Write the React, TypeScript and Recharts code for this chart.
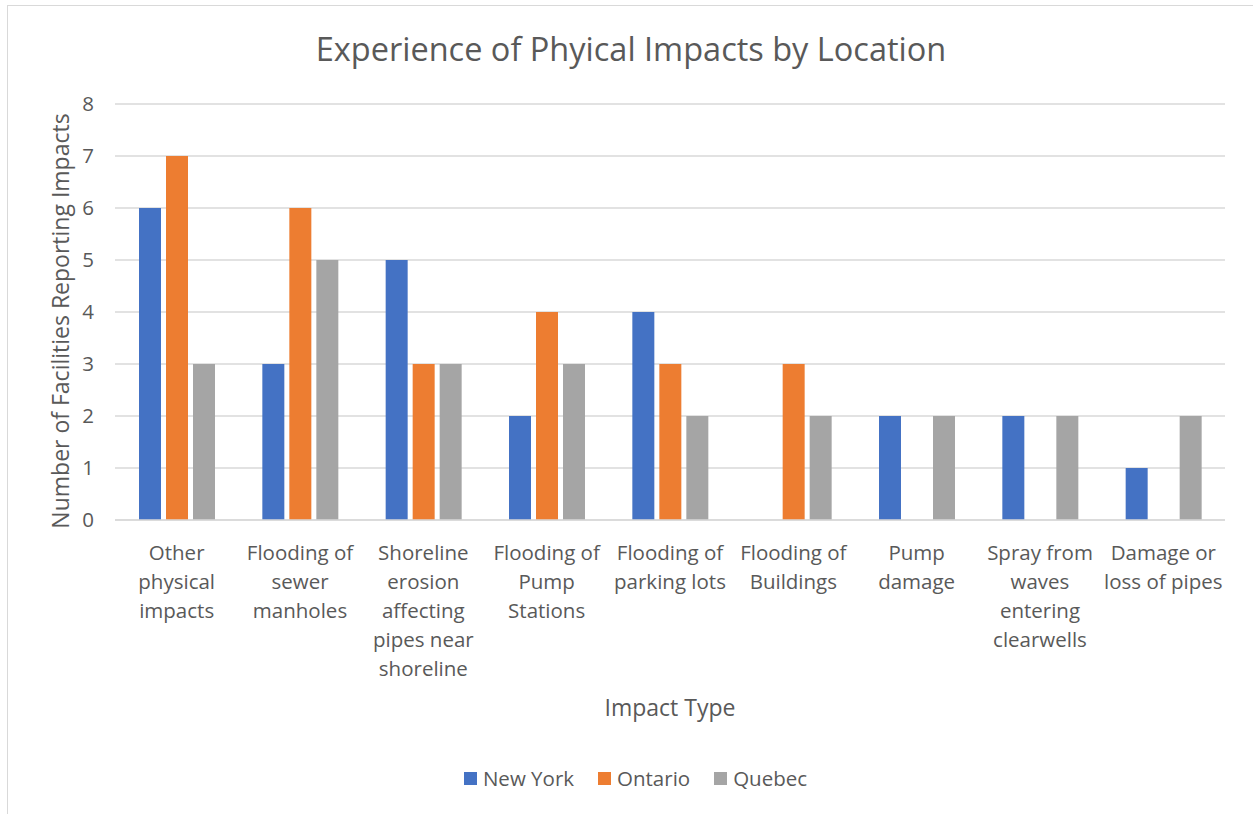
import React from "react";
import {
  BarChart,
  Bar,
  XAxis,
  YAxis,
  CartesianGrid,
  Legend,
  Label,
} from "recharts";

// category labels, with the line breaks as they appear in the chart
const CATEGORIES = [
  "Other\nphysical\nimpacts",
  "Flooding of\nsewer\nmanholes",
  "Shoreline\nerosion\naffecting\npipes near\nshoreline",
  "Flooding of\nPump\nStations",
  "Flooding of\nparking lots",
  "Flooding of\nBuildings",
  "Pump\ndamage",
  "Spray from\nwaves\nentering\nclearwells",
  "Damage or\nloss of pipes",
];

const NEW_YORK = [6, 3, 5, 2, 4, 0, 2, 2, 1];
const ONTARIO = [7, 6, 3, 4, 3, 3, 0, 0, 0];
const QUEBEC = [3, 5, 3, 3, 2, 2, 2, 2, 2];

const Y_TICKS = [0, 1, 2, 3, 4, 5, 6, 7, 8];

const SERIES = [
  { key: "ny", name: "New York", color: "#4472C4" },
  { key: "on", name: "Ontario", color: "#ED7D31" },
  { key: "qc", name: "Quebec", color: "#A5A5A5" },
];

const data = CATEGORIES.map((c, i) => ({
  category: c,
  ny: NEW_YORK[i] || null,
  on: ONTARIO[i] || null,
  qc: QUEBEC[i] || null,
}));

const FONT = "'Open Sans', 'Noto Sans', sans-serif";
const TEXT = "#595959";

function CategoryTick(props: any) {
  const { x, y, payload } = props;
  const lines = String(payload.value).split("\n");
  return (
    <text
      x={x}
      y={y + 32}
      textAnchor="middle"
      fill={TEXT}
      fontSize={20.5}
      fontFamily={FONT}
    >
      {lines.map((l, i) => (
        <tspan key={i} x={x} dy={i === 0 ? 0 : 29}>
          {l}
        </tspan>
      ))}
    </text>
  );
}

function LegendContent() {
  return (
    <div
      style={{
        display: "flex",
        justifyContent: "center",
        alignItems: "center",
        height: 40,
        lineHeight: "28px",
        paddingLeft: 46,
        fontFamily: FONT,
        fontSize: 20.5,
        color: TEXT,
      }}
    >
      {SERIES.map((s) => (
        <div
          key={s.key}
          style={{ display: "flex", alignItems: "center", margin: "0 12px", marginTop: -12 }}
        >
          <span
            style={{
              display: "inline-block",
              width: 13,
              height: 13,
              background: s.color,
              marginRight: 6,
            }}
          />
          {s.name}
        </div>
      ))}
    </div>
  );
}

export default function App() {
  return (
    <div
      style={{
        position: "absolute",
        left: 0,
        top: 0,
        width: 1253,
        height: 814,
        background: "#fff",
        fontFamily: FONT,
      }}
    >
      <div
        style={{
          position: "absolute",
          left: 7,
          top: 5,
          width: 1260,
          height: 820,
          border: "1px solid #D9D9D9",
        }}
      />
      <div
        style={{
          position: "absolute",
          left: 0,
          top: 26,
          width: 1262,
          textAlign: "center",
          fontSize: 32.5,
          color: TEXT,
        }}
      >
        Experience of Phyical Impacts by Location
      </div>
      <BarChart
        width={1253}
        height={814}
        data={data}
        margin={{ top: 104, right: 28, left: 0, bottom: 10 }}
        barGap={5}
        barSize={22}
        style={{ position: "absolute", left: 0, top: 0 }}
      >
        <CartesianGrid vertical={false} stroke="#D9D9D9" strokeWidth={1.5} />
        <XAxis
          dataKey="category"
          interval={0}
          height={244}
          axisLine={{ stroke: "#D9D9D9", strokeWidth: 1.5 }}
          tickLine={false}
          tick={<CategoryTick />}
        >
          <Label
            content={(p: any) => {
              const vb = p.viewBox;
              return (
                <text
                  x={vb.x + vb.width / 2}
                  y={vb.y + 196}
                  textAnchor="middle"
                  fill={TEXT}
                  fontSize={23}
                  fontFamily={FONT}
                >
                  Impact Type
                </text>
              );
            }}
          />
        </XAxis>
        <YAxis
          width={115}
          domain={[0, 8]}
          ticks={Y_TICKS}
          interval={0}
          axisLine={false}
          tickLine={false}
          tickSize={0}
          tickMargin={21}
          tick={{ fill: TEXT, fontSize: 20.5, fontFamily: FONT }}
        >
          <Label
            content={(p: any) => {
              const vb = p.viewBox;
              const cx = 60;
              const cy = vb.y + vb.height / 2 + 9;
              return (
                <text
                  x={cx}
                  y={cy}
                  transform={`rotate(-90 ${cx} ${cy})`}
                  textAnchor="middle"
                  dominantBaseline="central"
                  fill={TEXT}
                  fontSize={23}
                  fontFamily={FONT}
                >
                  Number of Facilities Reporting Impacts
                </text>
              );
            }}
          />
        </YAxis>
        <Legend verticalAlign="bottom" content={<LegendContent />} />
        {SERIES.map((s) => (
          <Bar
            key={s.key}
            dataKey={s.key}
            name={s.name}
            fill={s.color}
            isAnimationActive={false}
          />
        ))}
      </BarChart>
    </div>
  );
}
